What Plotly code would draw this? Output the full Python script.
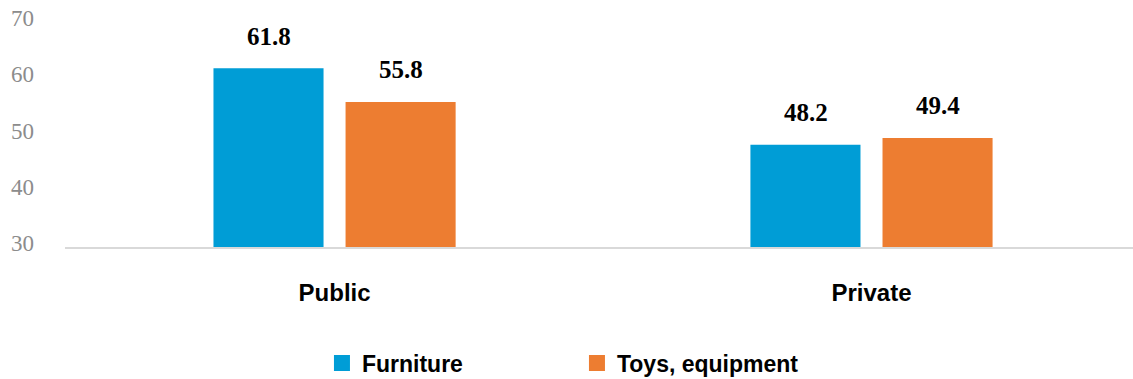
import plotly.graph_objects as go

# Categories and series values
categories = ["Public", "Private"]
series_names = ["Furniture", "Toys, equipment"]
furniture = [61.8, 48.2]
toys = [55.8, 49.4]
y_ticks = [30, 40, 50, 60, 70]

colors = ["#009DD6", "#ED7D31"]
series_values = [furniture, toys]

fig = go.Figure()

for name, vals, col in zip(series_names, series_values, colors):
    fig.add_trace(go.Bar(
        x=categories, y=vals, name=name,
        marker=dict(color=col, line=dict(width=0)),
        showlegend=False,
    ))
    # square legend swatch
    fig.add_trace(go.Scatter(
        x=[None], y=[None], mode="markers", name=name,
        marker=dict(symbol="square", size=17, color=col),
        showlegend=True,
    ))

# value labels above each bar
offsets = [-66, 66]
for vals, dx in zip(series_values, offsets):
    for cat, v in zip(categories, vals):
        fig.add_annotation(
            x=cat, y=v, xref="x", yref="y",
            text=f"<b>{v:.1f}</b>", showarrow=False,
            xshift=dx, yshift=32, yanchor="middle",
            font=dict(family="Liberation Serif", size=25, color="#000000"),
        )

fig.update_layout(
    width=1133, height=379,
    margin=dict(l=65, r=0, t=22, b=132, autoexpand=False),
    paper_bgcolor="white", plot_bgcolor="white",
    barmode="group", bargap=0.508, bargroupgap=0.1667,
    legend=dict(
        orientation="h", x=0.2406, xanchor="left",
        yref="container", y=0.042, yanchor="middle",
        entrywidth=210, itemsizing="trace",
        font=dict(family="Liberation Sans", size=23, color="#000000", weight="bold"),
    ),
)

fig.update_xaxes(
    type="category", range=[-0.502, 1.487],
    showline=True, linecolor="#D9D9D9", linewidth=2,
    showgrid=False, zeroline=False, ticks="",
    ticklabelstandoff=23,
    tickfont=dict(family="Liberation Sans", size=24, color="#000000", weight="bold"),
)

fig.update_yaxes(
    range=[30, 70], tickvals=y_ticks,
    showgrid=False, zeroline=False, showline=False,
    ticklabelstandoff=30, ticklabelshift=-4,
    tickfont=dict(family="Liberation Serif", size=23, color="#8C8C8C"),
)

fig.write_html("out.html")
